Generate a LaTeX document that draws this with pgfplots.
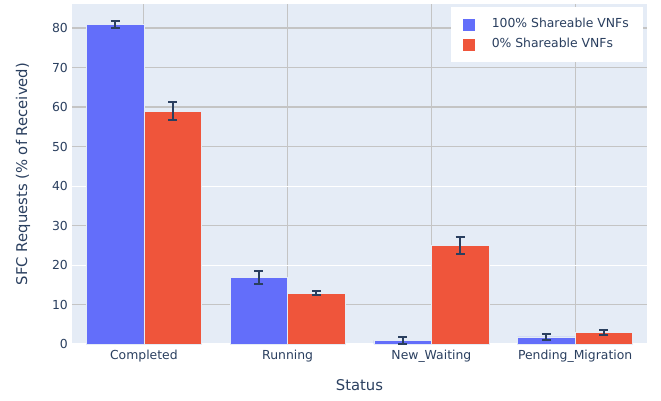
\documentclass[border=0pt]{standalone}
\usepackage{fontspec}
\setmainfont{DejaVu Sans}
\usepackage{pgfplots}
\usepackage{pgfplotstable}
\pgfplotsset{compat=1.18}

\definecolor{pxblue}{HTML}{636EFA}
\definecolor{pxred}{HTML}{EF553B}
\definecolor{pxbg}{HTML}{E5ECF6}
\definecolor{pxtext}{HTML}{2A3F5F}
\definecolor{pxgrid}{HTML}{C4C4C4}

% share of received SFC requests per status; categories sit at 0..3
% (Completed, Running, New_Waiting, Pending_Migration), bars offset by 0.2
\pgfplotstableread{
x     y     e
-0.2  80.9  0.9
0.8   16.9  1.6
1.8   0.9   0.9
2.8   1.8   0.8
}\sharefull
\pgfplotstableread{
x     y     e
0.2   58.9  2.3
1.2   12.8  0.5
2.2   24.9  2.2
3.2   2.9   0.6
}\sharenone

\newcommand{\ticksize}{\fontsize{12.4bp}{14bp}\selectfont}
\newcommand{\titlesize}{\fontsize{14.8bp}{17bp}\selectfont}

\begin{document}
\begin{tikzpicture}
\useasboundingbox (-72bp,-57bp) rectangle (589bp,344bp);
\begin{axis}[
  at={(0,0)}, anchor=south west,
  scale only axis, width=575bp, height=340bp,
  xmin=-0.5, xmax=3.5, ymin=0, ymax=86.1,
  axis background/.style={fill=pxbg},
  axis line style={draw=none},
  tick style={draw=none},
  major tick length=0pt,
  xmajorgrids, ymajorgrids,
  xtick={0,1,3},
  xticklabels={Completed,Running,Pending\_Migration},
  extra x ticks={2},
  extra x tick labels={New\_Waiting},
  extra x tick style={grid style={white, line width=1bp}},
  ytick={0,20,40},
  extra y ticks={10,30,50,60,70,80},
  extra y tick style={grid style={pxgrid, line width=1.2bp}},
  grid style={white, line width=1bp},
  x grid style={pxgrid, line width=1.1bp},
  /pgf/number format/assume math mode=true,
  xticklabel style={font=\ticksize, text=pxtext, inner sep=0pt, anchor=north, yshift=-6bp},
  yticklabel style={font=\ticksize, text=pxtext, inner sep=0pt, anchor=east, xshift=-4bp},
  xlabel={Status},
  xlabel style={at={(rel axis cs:0.5,0)}, anchor=north, yshift=-35bp, inner sep=0pt, font=\titlesize, text=pxtext},
  ylabel={SFC Requests (\% of Received)},
  ylabel style={at={(axis description cs:-0.0852,0.5)}, anchor=center, inner sep=0pt, font=\titlesize, text=pxtext},
  legend style={at={(rel axis cs:0.993,0.991)}, anchor=north east,
    draw=none, fill=white, font=\ticksize, text=pxtext,
    inner xsep=12bp, inner ysep=9bp, row sep=3.5bp,
    nodes={inner sep=2bp, text height=9.5bp, text depth=3bp},
    /tikz/every odd column/.style={column sep=15bp}},
  legend cell align=left,
  error bars/error bar style={pxtext, line width=2bp},
  error bars/error mark options={pxtext, line width=2bp, mark size=4.5bp, rotate=90},
]
% zero line
\addplot[white, line width=2bp, forget plot] coordinates {(-0.5,0) (3.5,0)};

\addplot[ybar, bar width=0.4, bar shift=0pt, fill=pxblue, draw=pxbg, line width=0.5bp,
  legend image code/.code={\fill[pxblue] (0bp,-5.5bp) rectangle (11bp,5.5bp);},
  error bars/.cd, y dir=both, y explicit]
  table[x=x, y=y, y error=e] {\sharefull};
\addlegendentry{100\% Shareable VNFs}

\addplot[ybar, bar width=0.4, bar shift=0pt, fill=pxred, draw=pxbg, line width=0.5bp,
  legend image code/.code={\fill[pxred] (0bp,-5.5bp) rectangle (11bp,5.5bp);},
  error bars/.cd, y dir=both, y explicit]
  table[x=x, y=y, y error=e] {\sharenone};
\addlegendentry{0\% Shareable VNFs}
\end{axis}
\end{tikzpicture}
\end{document}
